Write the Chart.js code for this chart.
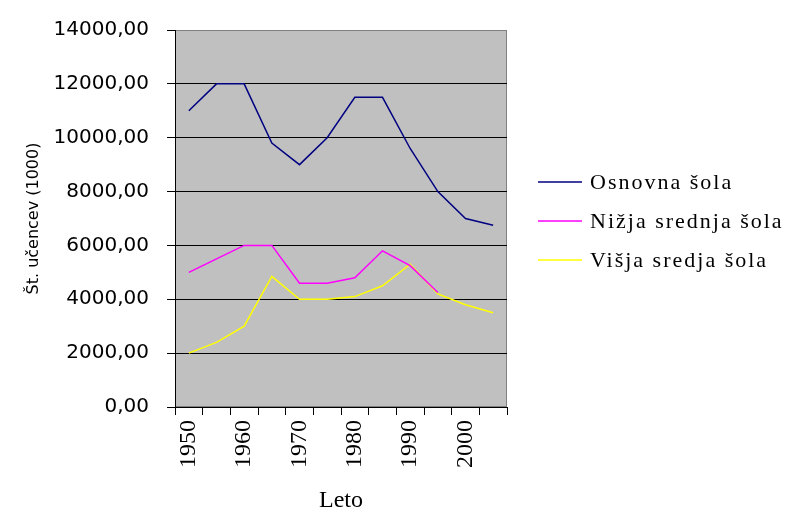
<!DOCTYPE html>
<html>
<head>
<meta charset="utf-8">
<script src="https://cdn.jsdelivr.net/npm/chart.js@4/dist/chart.umd.min.js"></script>
<style>
  html, body { margin: 0; padding: 0; background: #fff; }
  #wrap { width: 786px; height: 512px; }
</style>
</head>
<body>
<div id="wrap"><canvas id="chart" width="786" height="512"></canvas></div>
<script>
// data
const years = ['1950', '1955', '1960', '1965', '1970', '1975', '1980', '1985', '1990', '1995', '2000', '2005'];
const xTickLabels = ['1950', '', '1960', '', '1970', '', '1980', '', '1990', '', '2000', ''];
const osnovna = [11000, 12000, 12000, 9800, 9000, 10000, 11500, 11500, 9600, 8000, 7000, 6750];
const nizja = [5000, 5500, 6000, 6000, 4600, 4600, 4800, 5800, 5250, 4250, null, null];
const visja = [2000, 2400, 3000, 4850, 4000, 4000, 4100, 4500, 5300, 4200, 3800, 3500];
const seriesNames = ['Osnovna šola', 'Nižja srednja šola', 'Višja sredja šola'];
const yMax = 14000;
const yStep = 2000;

// gray plot background with a thin border
const plotFrame = {
    id: 'plotFrame',
    beforeDraw(chart) {
        const { ctx, chartArea: a } = chart;
        ctx.save();
        ctx.fillStyle = '#c0c0c0';
        ctx.fillRect(a.left, a.top, a.right - a.left, a.bottom - a.top);
        ctx.strokeStyle = '#808080';
        ctx.lineWidth = 1;
        ctx.strokeRect(a.left + 0.5, a.top + 0.5, a.right - a.left - 1, a.bottom - a.top - 1);
        ctx.restore();
    }
};

// legend to the right of the plot, Excel style
const sideLegend = {
    id: 'sideLegend',
    afterDraw(chart) {
        const ctx = chart.ctx;
        ctx.save();
        ctx.font = '22px "Liberation Serif"';
        ctx.letterSpacing = '2px';
        ctx.textBaseline = 'middle';
        ctx.textAlign = 'left';
        chart.data.datasets.forEach((ds, i) => {
            const y = 182 + i * 39;
            ctx.strokeStyle = ds.borderColor;
            ctx.lineWidth = 1.5;
            ctx.beginPath();
            ctx.moveTo(538, y);
            ctx.lineTo(582, y);
            ctx.stroke();
            ctx.fillStyle = '#000';
            ctx.fillText(ds.label, 590, y + 1);
        });
        ctx.restore();
    }
};

new Chart(document.getElementById('chart'), {
    type: 'line',
    data: {
        labels: years,
        datasets: [
            { label: seriesNames[0], data: osnovna, borderColor: '#000080' },
            { label: seriesNames[1], data: nizja, borderColor: '#ff00ff' },
            { label: seriesNames[2], data: visja, borderColor: '#ffff00' }
        ]
    },
    options: {
        responsive: false,
        animation: false,
        devicePixelRatio: 1,
        layout: { autoPadding: false, padding: { left: 20, right: 279, top: 27, bottom: 0 } },
        elements: {
            line: { borderWidth: 1.5, tension: 0, fill: false },
            point: { radius: 0 }
        },
        plugins: {
            legend: { display: false },
            tooltip: { enabled: false }
        },
        scales: {
            x: {
                offset: true,
                grid: {
                    offset: true,
                    drawOnChartArea: false,
                    tickLength: 8,
                    tickColor: '#000'
                },
                border: { color: '#000', width: 1 },
                ticks: {
                    autoSkip: false,
                    maxRotation: 90,
                    minRotation: 90,
                    padding: 5,
                    color: '#000',
                    font: { family: '"Liberation Serif"', size: 24 },
                    callback: (v, i) => xTickLabels[i]
                },
                title: {
                    display: true,
                    text: 'Leto',
                    color: '#000',
                    font: { family: '"Liberation Serif"', size: 24 },
                    padding: { top: 0, bottom: -3 }
                },
                afterFit: (s) => { s.height = 105; }
            },
            y: {
                min: 0,
                max: yMax,
                grid: {
                    color: (c) => (c.tick && c.tick.value === yMax ? '#808080' : '#000'),
                    lineWidth: 1,
                    tickLength: 8,
                    tickColor: '#000'
                },
                border: { color: '#000', width: 1 },
                ticks: {
                    stepSize: yStep,
                    padding: 18,
                    color: '#000',
                    font: { family: '"DejaVu Sans"', size: 20 },
                    callback: (v) => v.toFixed(2).replace('.', ',')
                },
                title: {
                    display: true,
                    text: 'Št. učencev (1000)',
                    color: '#000',
                    font: { family: '"DejaVu Sans"', size: 16 },
                    padding: { top: 4, bottom: 0 }
                },
                afterFit: (s) => { s.width = 155; }
            }
        }
    },
    plugins: [plotFrame, sideLegend]
});
</script>
</body>
</html>
